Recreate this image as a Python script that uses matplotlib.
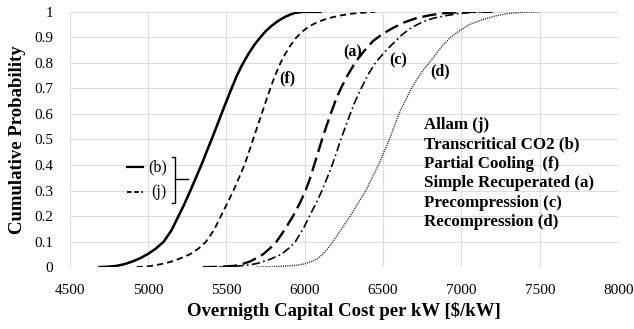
import matplotlib.pyplot as plt

plt.rcParams['font.family'] = ['Liberation Serif', 'DejaVu Serif']

# cumulative probability read at each cost level [$/kW]
cost_b = [4690, 4750, 4800, 4850, 4900, 4950, 5000, 5050, 5100, 5150, 5190, 5230, 5270,
          5305, 5340, 5372, 5405, 5437, 5468, 5500, 5533, 5565, 5600, 5640, 5680, 5720,
          5755, 5790, 5820, 5850, 5880, 5910, 5940, 5970, 6000, 6100]
prob_b = [0.0, 0.002, 0.005, 0.012, 0.022, 0.035, 0.052, 0.073, 0.10, 0.145, 0.195, 0.245,
          0.30, 0.35, 0.40, 0.45, 0.50, 0.55, 0.60, 0.65, 0.70, 0.748, 0.792, 0.835, 0.872,
          0.903, 0.927, 0.946, 0.96, 0.972, 0.982, 0.99, 0.996, 0.999, 1.0, 1.0]

# Allam cycle coincides with the transcritical curve
cost_j = cost_b
prob_j = prob_b

cost_f = [4926, 5000, 5050, 5100, 5150, 5200, 5266, 5320, 5370, 5420, 5465, 5505, 5545,
          5580, 5615, 5643, 5670, 5697, 5725, 5752, 5780, 5810, 5845, 5875, 5905, 5940,
          5975, 6020, 6080, 6150, 6220, 6300, 6400, 6450]
prob_f = [0.0, 0.003, 0.008, 0.014, 0.022, 0.033, 0.05, 0.072, 0.10, 0.145, 0.20, 0.25,
          0.30, 0.35, 0.40, 0.45, 0.50, 0.55, 0.60, 0.65, 0.70, 0.75, 0.80, 0.835, 0.865,
          0.895, 0.918, 0.94, 0.96, 0.975, 0.985, 0.993, 0.998, 1.0]

cost_a = [5350, 5450, 5550, 5600, 5650, 5700, 5733, 5780, 5820, 5875, 5925, 5968, 6005,
          6035, 6060, 6085, 6110, 6137, 6165, 6195, 6230, 6272, 6320, 6370, 6436, 6500,
          6563, 6640, 6716, 6800, 6880, 6960, 7050, 7200]
prob_a = [0.0, 0.001, 0.005, 0.012, 0.022, 0.038, 0.05, 0.075, 0.10, 0.15, 0.20, 0.25,
          0.30, 0.35, 0.40, 0.45, 0.50, 0.55, 0.60, 0.65, 0.70, 0.75, 0.80, 0.84, 0.886,
          0.915, 0.937, 0.96, 0.976, 0.987, 0.994, 0.998, 1.0, 1.0]

cost_c = [5450, 5550, 5650, 5700, 5775, 5850, 5900, 5940, 5990, 6030, 6072, 6110, 6143,
          6175, 6203, 6230, 6260, 6290, 6322, 6360, 6400, 6450, 6520, 6570, 6620, 6680,
          6750, 6820, 6900, 6980, 7050, 7120, 7200]
prob_c = [0.0, 0.003, 0.009, 0.015, 0.03, 0.05, 0.075, 0.10, 0.15, 0.20, 0.25, 0.30, 0.35,
          0.40, 0.45, 0.50, 0.55, 0.60, 0.65, 0.70, 0.75, 0.80, 0.85, 0.88, 0.91, 0.938,
          0.96, 0.975, 0.985, 0.993, 0.997, 1.0, 1.0]

cost_d = [5690, 5800, 5900, 5950, 6000, 6040, 6080, 6110, 6140, 6180, 6235, 6290, 6340,
          6390, 6430, 6470, 6505, 6540, 6570, 6600, 6640, 6680, 6720, 6760, 6820, 6875,
          6930, 6990, 7050, 7137, 7210, 7290, 7380, 7500]
prob_d = [0.0, 0.002, 0.005, 0.008, 0.013, 0.021, 0.033, 0.048, 0.068, 0.10, 0.15, 0.20,
          0.25, 0.30, 0.35, 0.40, 0.45, 0.50, 0.55, 0.60, 0.65, 0.70, 0.74, 0.775, 0.82,
          0.865, 0.90, 0.927, 0.95, 0.97, 0.983, 0.993, 0.998, 1.0]

legend_lines = ['Allam (j)', 'Transcritical CO2 (b)', 'Partial Cooling  (f)',
                'Simple Recuperated (a)', 'Precompression (c)', 'Recompression (d)']

fig = plt.figure(figsize=(6.34, 3.29), dpi=100)
ax = fig.add_axes([0.110, 0.188, 0.865, 0.776])

ax.plot(cost_j, prob_j, color='black', lw=1.3, ls=(0, (4, 2.5)))
ax.plot(cost_b, prob_b, color='black', lw=1.8)
ax.plot(cost_f, prob_f, color='black', lw=1.3, ls=(0, (3.5, 2.2)))
ax.plot(cost_a, prob_a, color='black', lw=1.7, ls=(0, (6, 2.5)))
ax.plot(cost_c, prob_c, color='black', lw=1.2, ls=(0, (5, 2, 1, 2)))
ax.plot(cost_d, prob_d, color='#222222', lw=1.0, ls=(0, (0.8, 0.8)))

ax.set_xlim(4500, 8000)
ax.set_ylim(0, 1)
ax.set_xticks(range(4500, 8001, 500))
ax.set_yticks([i / 10 for i in range(11)])
ax.set_yticklabels(['0', '0.1', '0.2', '0.3', '0.4', '0.5', '0.6', '0.7', '0.8', '0.9', '1'])
ax.tick_params(length=0, labelsize=11, pad=12)
ax.grid(True, color='#dcdcdc', lw=0.8)
ax.set_axisbelow(True)
for s in ax.spines.values():
    s.set_visible(False)

ax.set_xlabel('Overnigth Capital Cost per kW [$/kW]', fontsize=13.5, fontweight='bold', labelpad=4)
ax.set_ylabel('Cumulative Probability', fontsize=13.5, fontweight='bold', labelpad=6)

# curve tags
ax.text(6307, 0.843, '(a)', fontsize=11.5, fontweight='bold', ha='center', va='center')
ax.text(6595, 0.808, '(c)', fontsize=11.5, fontweight='bold', ha='center', va='center')
ax.text(6863, 0.768, '(d)', fontsize=11.5, fontweight='bold', ha='center', va='center')
ax.text(5886, 0.741, '(f)', fontsize=11.5, fontweight='bold', ha='center', va='center')

for i, t in enumerate(legend_lines):
    ax.text(6760, 0.555 - i * 0.0755, t, fontsize=12.2, fontweight='bold', ha='left', va='center')

# bracket key for the two overlapping curves
ax.plot([4864, 4966], [0.392, 0.392], color='black', lw=1.6)
ax.plot([4864, 4966], [0.294, 0.294], color='black', lw=1.3, ls=(0, (2.5, 1.5)))
ax.text(5000, 0.392, '(b)', fontsize=11.5, ha='left', va='center')
ax.text(5020, 0.294, '(j)', fontsize=11.5, ha='left', va='center')
ax.plot([5151, 5170, 5170, 5151], [0.431, 0.431, 0.251, 0.251], color='black', lw=1.0)
ax.plot([5170, 5253], [0.345, 0.345], color='black', lw=1.0)

fig.savefig('out.png', dpi=100)
